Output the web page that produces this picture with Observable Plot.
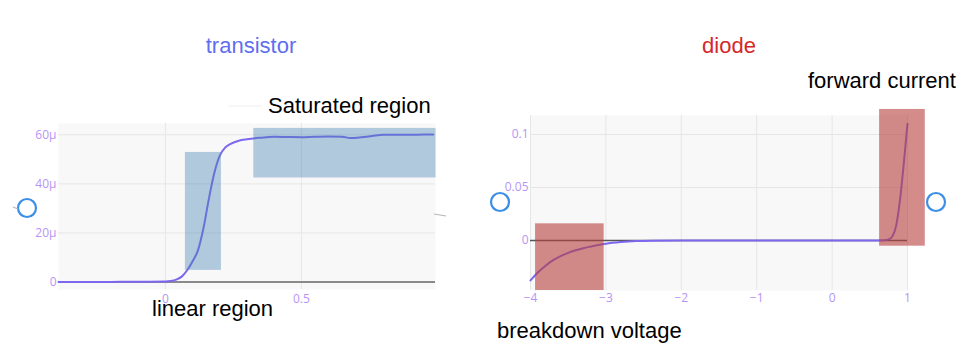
<!DOCTYPE html>
<html>
<head>
<meta charset="utf-8">
<script src="https://cdn.jsdelivr.net/npm/d3@7"></script>
<script src="https://cdn.jsdelivr.net/npm/@observablehq/plot@0.6"></script>
<style>
  html, body { margin: 0; padding: 0; background: #fff; }
  #wrap { position: relative; width: 963px; height: 354px; overflow: hidden; }
  #wrap > svg, #wrap > div { position: absolute; top: 0; }
  #left { left: 0; }
  #right { left: 480px; }
  #overlay { left: 0; top: 0; pointer-events: none; }
</style>
</head>
<body>
<div id="wrap">
  <div id="left"></div>
  <div id="right"></div>
</div>
<script>
// ---------- data ----------
// transistor: gate voltage (V) vs drain current (A)
const transistorV = [-0.393, -0.3, -0.2, -0.1, 0, 0.02, 0.04, 0.06, 0.08, 0.1, 0.12, 0.14, 0.16, 0.18, 0.2, 0.22, 0.24, 0.27, 0.3, 0.35, 0.4, 0.45, 0.5, 0.55, 0.6, 0.65, 0.68, 0.72, 0.76, 0.8, 0.85, 0.9, 0.95, 0.985];
const transistorI_uA = [0, 0, 0.05, 0.1, 0.2, 0.4, 1, 2.2, 4.8, 8.5, 13, 22, 34, 44.5, 51.5, 54.8, 56.3, 57.6, 58.2, 58.8, 59.2, 59.1, 59.0, 59.2, 59.3, 59.2, 58.7, 59.0, 59.5, 60.0, 60.0, 60.0, 60.1, 60.1];

// diode: voltage (V) vs current (A)
const diodeV = [-4, -3.9, -3.8, -3.7, -3.6, -3.5, -3.4, -3.3, -3.2, -3.1, -3.0, -2.8, -2.6, -2.4, -2.0, -1.0, 0, 0.5, 0.7, 0.75, 0.8, 0.85, 0.9, 0.95, 1.0];
const diodeI = [-0.0377, -0.030, -0.0238, -0.0186, -0.0147, -0.0117, -0.0093, -0.0073, -0.0057, -0.0042, -0.0030, -0.0015, -0.0006, -0.0002, 0, 0, 0, 0, 0.0003, 0.001, 0.004, 0.014, 0.038, 0.072, 0.11];

// highlighted regions
const transistorRegionNames = ["linear region", "Saturated region"];
const transistorRegionX1 = [0.0735, 0.325];
const transistorRegionX2 = [0.206, 0.995];
const transistorRegionY1_uA = [4.75, 42.4];
const transistorRegionY2_uA = [52.8, 62.6];

const diodeRegionNames = ["breakdown voltage", "forward current"];
const diodeRegionX1 = [-3.933, 0.63];
const diodeRegionX2 = [-3.023, 1.236];
const diodeRegionY1 = [-0.0472, -0.0054];
const diodeRegionY2 = [0.0157, 0.1236];

// ticks
const transistorXTicks = [0, 0.5];
const transistorYTicks_uA = [0, 20, 40, 60];
const diodeXTicks = [-4, -3, -2, -1, 0, 1];
const diodeYTicks = [0, 0.05, 0.1];

// ---------- tables ----------
const transistor = transistorV.map((v, i) => ({v, i: transistorI_uA[i] * 1e-6}));
const diode = diodeV.map((v, i) => ({v, i: diodeI[i]}));
const tRegions = transistorRegionNames.map((n, k) => ({
  n, x1: transistorRegionX1[k], x2: transistorRegionX2[k],
  y1: transistorRegionY1_uA[k] * 1e-6, y2: transistorRegionY2_uA[k] * 1e-6
}));
const dRegions = diodeRegionNames.map((n, k) => ({
  n, x1: diodeRegionX1[k], x2: diodeRegionX2[k], y1: diodeRegionY1[k], y2: diodeRegionY2[k]
}));

const tickColor = "#b794f4";
const gridColor = "#e6e6e6";
const bg = "#f8f8f8";
const lineColor = "#7b68ee";
const minus = d => String(d).replace("-", "\u2212");

const left = Plot.plot({
  width: 480, height: 354,
  marginLeft: 58, marginRight: 45, marginTop: 123, marginBottom: 65,
  x: {domain: [-0.393, 0.993]},
  y: {domain: [-3.05e-6, 64.6e-6]},
  style: {fontFamily: "'Open Sans', sans-serif", fontSize: "12px", color: tickColor, background: "transparent", overflow: "visible"},
  marks: [
    Plot.frame({fill: bg, stroke: null}),
    Plot.gridX(transistorXTicks, {stroke: gridColor, strokeOpacity: 1}),
    Plot.gridY(transistorYTicks_uA.slice(1).map(d => d * 1e-6), {stroke: gridColor, strokeOpacity: 1}),
    Plot.axisX(transistorXTicks, {tickSize: 0, tickPadding: 5, label: null, tickFormat: d => String(d)}),
    Plot.axisY(transistorYTicks_uA.map(d => d * 1e-6), {tickSize: 0, tickPadding: 2, label: null,
      tickFormat: d => { const u = Math.round(d * 1e6); return u === 0 ? "0" : u + "\u03bc"; }}),
    Plot.ruleY([0], {stroke: "#8a8a8a", strokeWidth: 2}),
    Plot.line(transistor, {x: "v", y: "i", stroke: lineColor, strokeWidth: 2, curve: "monotone-x"}),
    Plot.rect(tRegions, {x1: "x1", x2: "x2", y1: "y1", y2: "y2", fill: "#4682b4", fillOpacity: 0.4})
  ]
});
document.getElementById("left").appendChild(left);

const right = Plot.plot({
  width: 483, height: 354,
  marginLeft: 50, marginRight: 56, marginTop: 115, marginBottom: 64,
  x: {domain: [-4, 1]},
  y: {domain: [-0.0472, 0.1179]},
  style: {fontFamily: "'Open Sans', sans-serif", fontSize: "12px", color: tickColor, background: "transparent", overflow: "visible"},
  marks: [
    Plot.frame({fill: bg, stroke: null}),
    Plot.gridX(diodeXTicks, {stroke: gridColor, strokeOpacity: 1}),
    Plot.gridY(diodeYTicks.slice(1), {stroke: gridColor, strokeOpacity: 1}),
    Plot.axisX(diodeXTicks, {tickSize: 0, tickPadding: 3, label: null, tickFormat: minus}),
    Plot.axisY(diodeYTicks, {tickSize: 0, tickPadding: 2, label: null, tickFormat: d => String(d)}),
    Plot.ruleY([0], {stroke: "#555", strokeWidth: 1.5}),
    Plot.line(diode, {x: "v", y: "i", stroke: lineColor, strokeWidth: 2, curve: "monotone-x"}),
    Plot.rect(dRegions, {x1: "x1", x2: "x2", y1: "y1", y2: "y2", fill: "#b5403c", fillOpacity: 0.6})
  ]
});
document.getElementById("right").appendChild(right);

// ---------- titles, annotations, decorations ----------
const ns = "http://www.w3.org/2000/svg";
const ov = document.createElementNS(ns, "svg");
ov.setAttribute("id", "overlay");
ov.setAttribute("width", 963);
ov.setAttribute("height", 354);
ov.style.position = "absolute";
const font = "'Liberation Sans', Arial, sans-serif";
function txt(s, x, y, fill, anchor) {
  const t = document.createElementNS(ns, "text");
  t.setAttribute("x", x); t.setAttribute("y", y);
  t.setAttribute("fill", fill);
  t.setAttribute("font-family", font);
  t.setAttribute("font-size", 22);
  t.setAttribute("text-anchor", anchor || "start");
  t.textContent = s;
  ov.appendChild(t);
}
function ring(cx, cy) {
  const c = document.createElementNS(ns, "circle");
  c.setAttribute("cx", cx); c.setAttribute("cy", cy); c.setAttribute("r", 9);
  c.setAttribute("fill", "none"); c.setAttribute("stroke", "#3d8ee6"); c.setAttribute("stroke-width", 2.2);
  ov.appendChild(c);
}
function seg(x1, y1, x2, y2, col, w) {
  const l = document.createElementNS(ns, "line");
  l.setAttribute("x1", x1); l.setAttribute("y1", y1); l.setAttribute("x2", x2); l.setAttribute("y2", y2);
  l.setAttribute("stroke", col); l.setAttribute("stroke-width", w);
  ov.appendChild(l);
}
txt("transistor", 251, 53, "#5f6ef0", "middle");
txt("diode", 729, 53, "#d62728", "middle");
txt(transistorRegionNames[1], 268, 113, "#000");
txt(transistorRegionNames[0], 152, 316, "#000");
txt(diodeRegionNames[1], 808, 88, "#000");
txt(diodeRegionNames[0], 497, 338, "#000");
ring(27, 208);
ring(500, 202);
ring(936, 202);
seg(228, 106, 262, 106, "#eeeeee", 1);
seg(434, 214, 446, 216, "#b8b8b8", 1.2);
seg(13, 207, 18, 209, "#b8b8b8", 1.2);
document.getElementById("wrap").appendChild(ov);
</script>
</body>
</html>
